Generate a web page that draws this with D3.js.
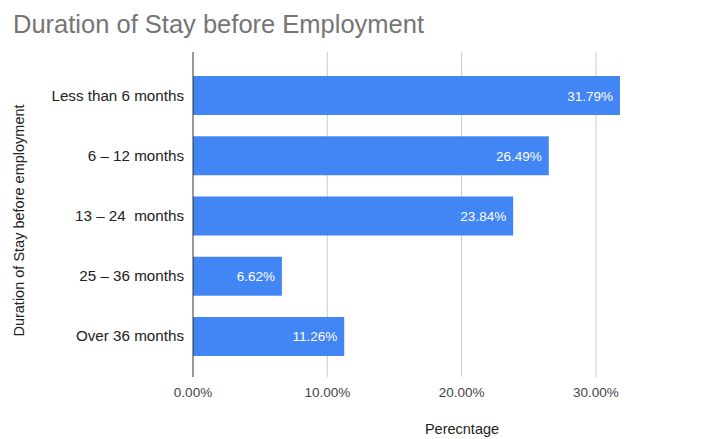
<!DOCTYPE html>
<html>
<head>
<meta charset="utf-8">
<script src="https://cdn.jsdelivr.net/npm/d3@7"></script>
<style>
  html, body { margin: 0; padding: 0; background: #fff; }
  svg { display: block; font-family: "Liberation Sans", Arial, sans-serif; }
</style>
</head>
<body>
<svg id="chart" width="723" height="439"></svg>
<script>
// Share of respondents by how long they stayed before finding work
const categories = ["Less than 6 months", "6 – 12 months", "13 – 24  months", "25 – 36 months", "Over 36 months"];
const percentages = [31.79, 26.49, 23.84, 6.62, 11.26];
const tickValues = [0, 10, 20, 30];
const tickLabels = ["0.00%", "10.00%", "20.00%", "30.00%"];

const svg = d3.select("#chart");

const plotTop = 52, plotBottom = 377;
const x = d3.scaleLinear().domain([0, 10]).range([193, 327.3]);
const y = d3.scaleBand()
  .domain(categories)
  .range([65.4, 366.6])
  .paddingInner(0.353)
  .paddingOuter(0.1765);

// Title
svg.append("text")
  .attr("x", 13).attr("y", 33)
  .attr("font-size", 25.5)
  .attr("fill", "#757575")
  .text("Duration of Stay before Employment");

// Vertical gridlines
svg.append("g")
  .selectAll("line")
  .data(tickValues.filter(d => d !== 0))
  .join("line")
  .attr("x1", d => x(d)).attr("x2", d => x(d))
  .attr("y1", plotTop).attr("y2", plotBottom)
  .attr("stroke", "#cccccc")
  .attr("stroke-width", 1);

// Bars
svg.append("g")
  .selectAll("rect")
  .data(categories)
  .join("rect")
  .attr("x", x(0))
  .attr("y", d => y(d))
  .attr("width", (d, i) => x(percentages[i]) - x(0))
  .attr("height", y.bandwidth())
  .attr("fill", "#4285f4");

// Baseline at zero
svg.append("line")
  .attr("x1", x(0)).attr("x2", x(0))
  .attr("y1", plotTop).attr("y2", plotBottom)
  .attr("stroke", "#333333")
  .attr("stroke-width", 1);

// Value labels inside bar ends
svg.append("g")
  .selectAll("text")
  .data(categories)
  .join("text")
  .attr("x", (d, i) => x(percentages[i]) - 7)
  .attr("y", d => y(d) + y.bandwidth() / 2 + 5)
  .attr("text-anchor", "end")
  .attr("font-size", 13.5)
  .attr("fill", "#ffffff")
  .text((d, i) => percentages[i].toFixed(2) + "%");

// Category labels
svg.append("g")
  .selectAll("text")
  .data(categories)
  .join("text")
  .attr("x", 184)
  .attr("y", d => y(d) + y.bandwidth() / 2 + 5)
  .attr("text-anchor", "end")
  .attr("font-size", 15.2)
  .attr("fill", "#222222")
  .attr("xml:space", "preserve")
  .style("white-space", "pre")
  .text(d => d);

// X tick labels
svg.append("g")
  .selectAll("text")
  .data(tickValues)
  .join("text")
  .attr("x", d => x(d))
  .attr("y", 397)
  .attr("text-anchor", "middle")
  .attr("font-size", 13.5)
  .attr("fill", "#444444")
  .text((d, i) => tickLabels[i]);

// Axis titles
svg.append("text")
  .attr("x", 462).attr("y", 434)
  .attr("text-anchor", "middle")
  .attr("font-size", 14.5)
  .attr("fill", "#222222")
  .text("Perecntage");

svg.append("text")
  .attr("transform", "translate(24," + ((plotTop + plotBottom) / 2 + 6) + ") rotate(-90)")
  .attr("text-anchor", "middle")
  .attr("font-size", 14.5)
  .attr("fill", "#222222")
  .text("Duration of Stay before employment");
</script>
</body>
</html>
